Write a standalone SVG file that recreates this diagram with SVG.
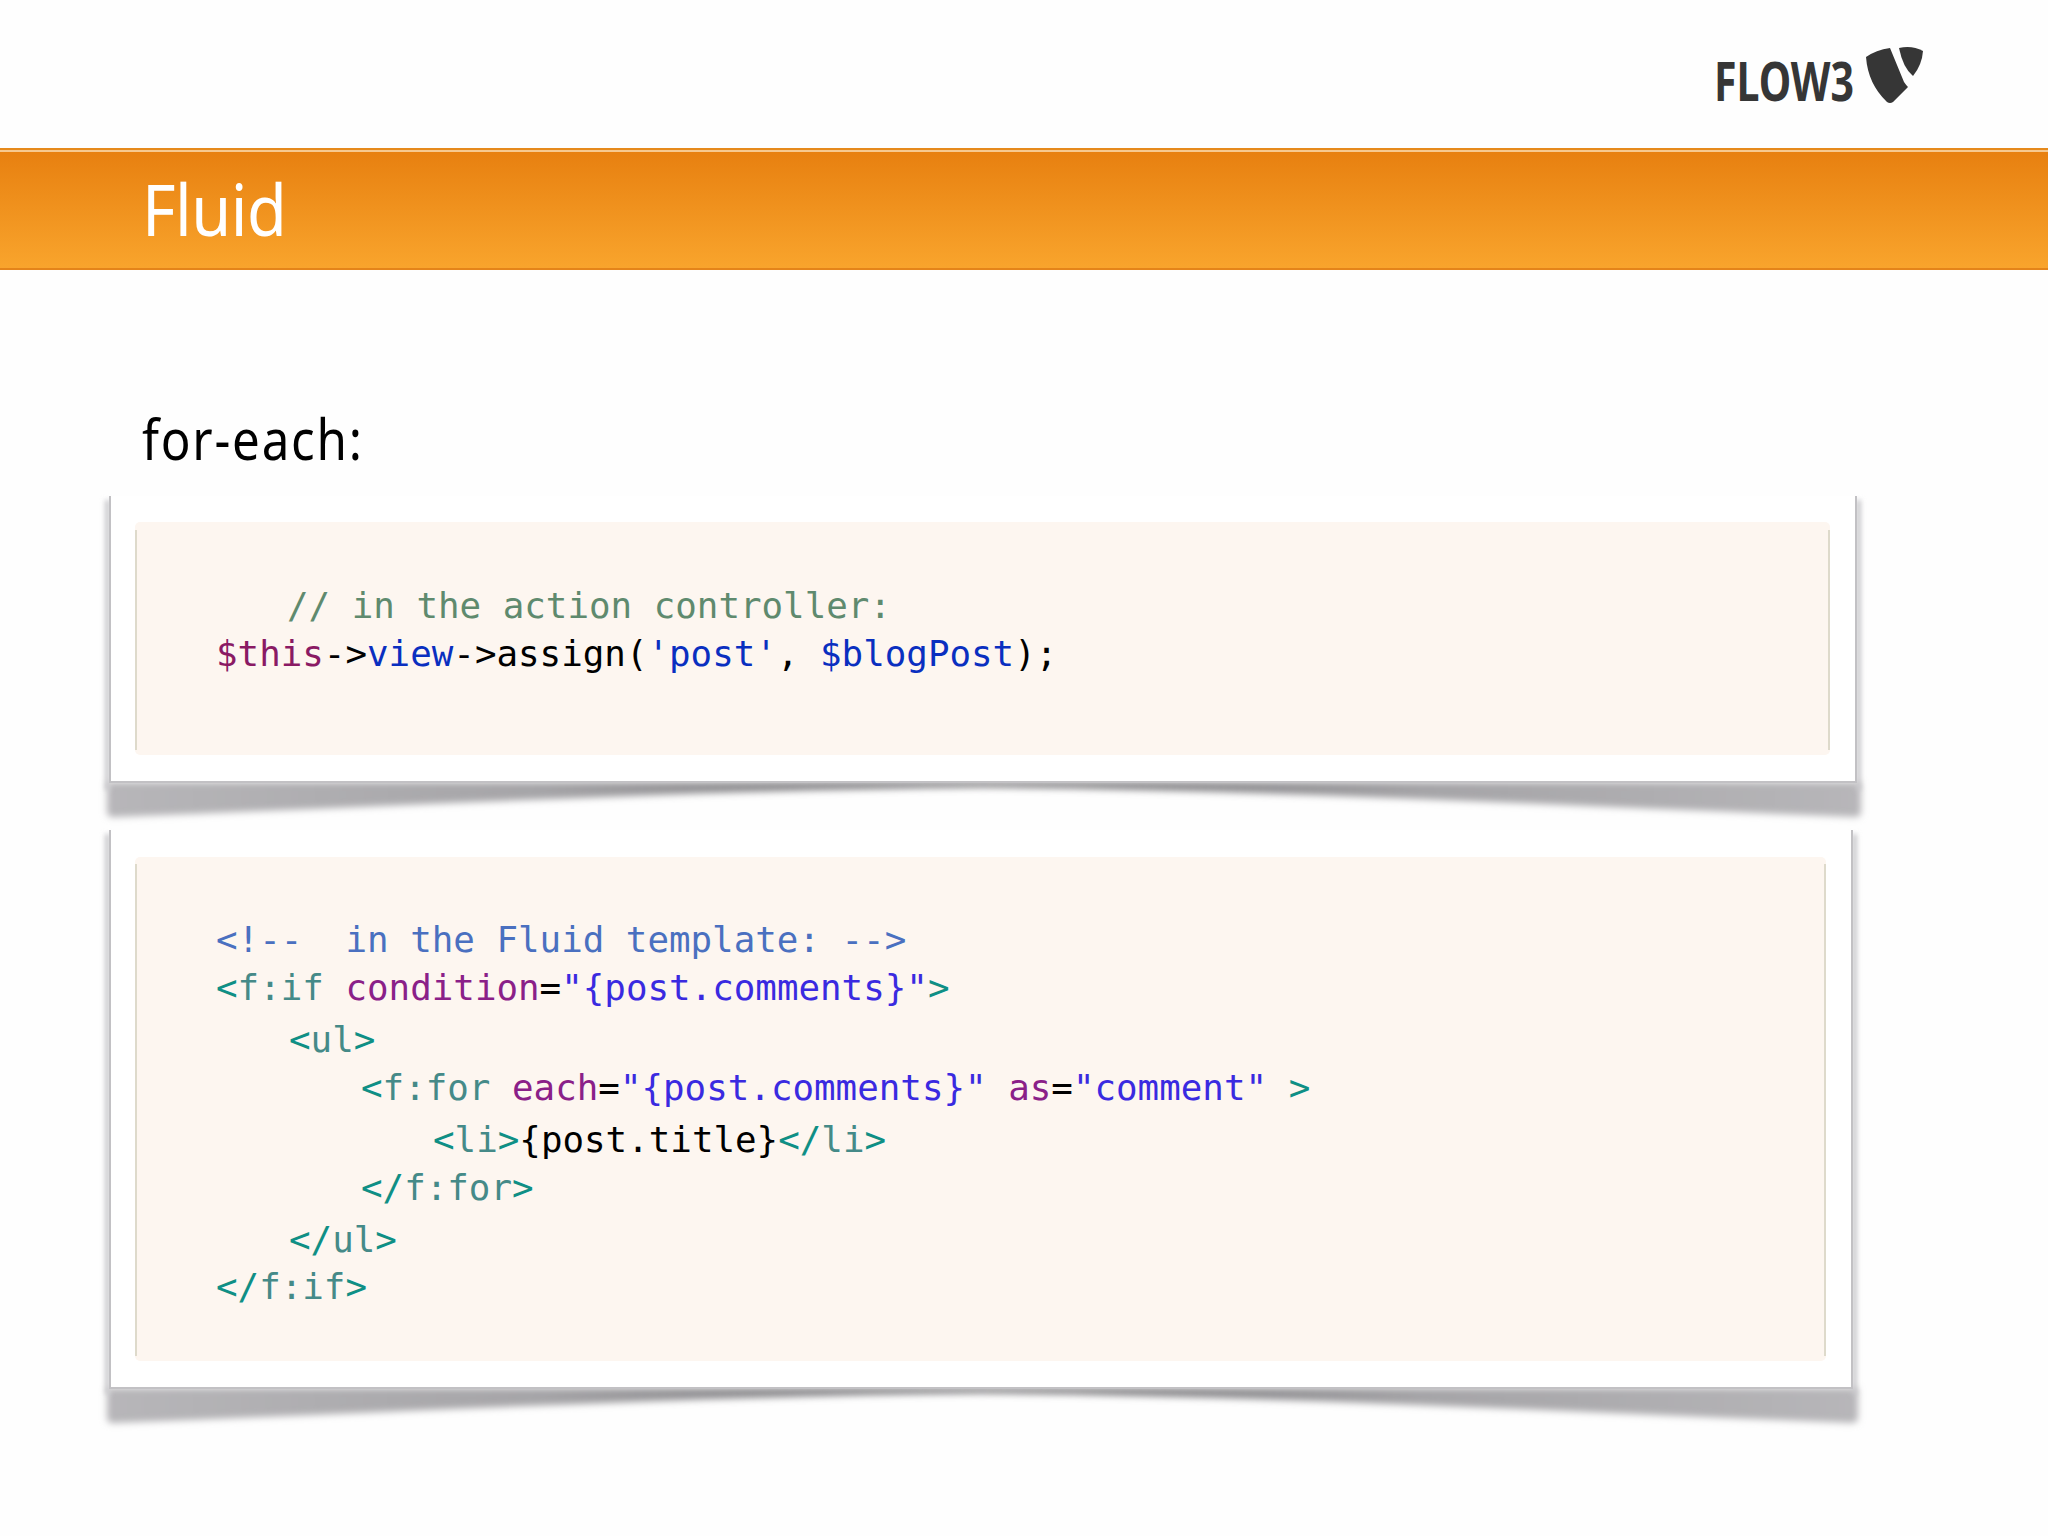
<svg xmlns="http://www.w3.org/2000/svg" width="2048" height="1536" viewBox="0 0 2048 1536">
<defs>
<linearGradient id="bannerFill" x1="0" y1="0" x2="0" y2="1"><stop offset="0" stop-color="#e77f0f"/><stop offset="1" stop-color="#f9a52d"/></linearGradient>
<linearGradient id="shadowFill" x1="0" y1="0" x2="1" y2="0"><stop offset="0" stop-color="#b7b6b9"/><stop offset="0.25" stop-color="#a5a4a7"/><stop offset="0.5" stop-color="#6d6c6f"/><stop offset="0.75" stop-color="#a5a4a7"/><stop offset="1" stop-color="#b7b6b9"/></linearGradient>
<filter id="blur" x="-5%" y="-50%" width="110%" height="200%"><feGaussianBlur stdDeviation="3.5"/></filter>
<filter id="blurSide" x="-300%" y="-5%" width="700%" height="110%"><feGaussianBlur stdDeviation="2.5"/></filter>
</defs>
<style>
text{white-space:pre}
.code{font-family:"DejaVu Sans Mono","Liberation Mono",monospace;font-size:35.85px}
.head{font-family:"Noto Sans","Open Sans",sans-serif}
.card{fill:#fff}
.edge{stroke:#c2c1c4;stroke-width:2;fill:none}
.inner{fill:#fdf6f0}
.innerEdge{stroke:#dedacb;stroke-width:2;fill:none}
.sh{fill:url(#shadowFill);filter:url(#blur)}
.side{fill:#c8c7ca;filter:url(#blurSide)}
.cm1{fill:#5f8a6e}.var{fill:#8a1a64}.prop{fill:#0a2fc0}.blk{fill:#000}
.cm2{fill:#4a70c0}.br{fill:#0f8f85}.tag{fill:#458a88}.attr{fill:#8a2088}.val{fill:#3a2ae0}
</style>
<rect width="2048" height="1536" fill="#fefefe"/>
<g id="logo">
<text x="1714" y="101" font-family="'Noto Sans',sans-serif" font-weight="700" font-size="54" fill="#363636" textLength="140" lengthAdjust="spacingAndGlyphs">FLOW3</text>
<path d="M1866 57Q1876 50 1890 48L1904 82Q1906 85 1908 87L1893 102Q1890 104 1887 102Q1868 84 1866 57Z" fill="#363636"/>
<path d="M1899 48Q1912 45 1923 51Q1922 65 1913 76Q1903 68 1899 48Z" fill="#363636"/>
</g>
<g id="banner">
<rect x="0" y="148" width="2048" height="122" fill="url(#bannerFill)"/>
<rect x="0" y="148" width="2048" height="2" fill="#e68a1c"/>
<rect x="0" y="150" width="2048" height="2" fill="#f7c98f"/>
<rect x="0" y="268" width="2048" height="2" fill="#e4841a"/>
<text class="head" transform="translate(142 236) scale(.9 1)" font-size="72" fill="#fff" textLength="161" lengthAdjust="spacing">Fluid</text>
</g>
<text id="subtitle" class="head" transform="translate(142 460) scale(.88 1)" font-size="56" fill="#000" textLength="250" lengthAdjust="spacing">for-each:</text>
<g id="card1">
<path class="sh" d="M107 782V812Q107 818 115 817C400 806 700 790 983 787C1270 790 1570 806 1855 817Q1861 817 1861 812V782Z"/>
<rect class="side" x="105" y="500" width="5" height="290"/>
<rect class="side" x="1856" y="500" width="5" height="290"/>
<rect class="card" x="110" y="496" width="1746" height="286"/>
<path class="edge" d="M110 496V782H1856V496"/>
<rect class="inner" x="135" y="522" width="1695" height="233" rx="5"/>
<path class="innerEdge" d="M136 530V750M1829 530V750"/>
<text class="code" y="618"><tspan class="cm1" x="287">// in the action controller:</tspan></text>
<text class="code" y="666" x="216"><tspan class="var">$this</tspan><tspan class="blk">-&gt;</tspan><tspan class="prop">view</tspan><tspan class="blk">-&gt;assign(</tspan><tspan class="prop">'post'</tspan><tspan class="blk">, </tspan><tspan class="prop">$blogPost</tspan><tspan class="blk">);</tspan></text>
</g>
<g id="card2">
<path class="sh" d="M107 1388V1418Q107 1424 115 1423C400 1412 700 1396 981 1393C1270 1396 1570 1412 1851 1423Q1858 1423 1858 1418V1388Z"/>
<rect class="side" x="105" y="834" width="5" height="560"/>
<rect class="side" x="1852" y="834" width="5" height="560"/>
<rect class="card" x="110" y="830" width="1742" height="558"/>
<path class="edge" d="M110 830V1388H1852V830"/>
<rect class="inner" x="135" y="857" width="1691" height="504" rx="5"/>
<path class="innerEdge" d="M136 864V1356M1825 864V1356"/>
<text class="code" y="952" x="216"><tspan class="cm2">&lt;!--  in the Fluid template: --&gt;</tspan></text>
<text class="code" y="1000" x="216"><tspan class="br">&lt;</tspan><tspan class="tag">f:if</tspan><tspan> </tspan><tspan class="attr">condition</tspan><tspan class="blk">=</tspan><tspan class="val">"{post.comments}"</tspan><tspan class="br">&gt;</tspan></text>
<text class="code" y="1052" x="289"><tspan class="br">&lt;</tspan><tspan class="tag">ul</tspan><tspan class="br">&gt;</tspan></text>
<text class="code" y="1100" x="361"><tspan class="br">&lt;</tspan><tspan class="tag">f:for</tspan><tspan> </tspan><tspan class="attr">each</tspan><tspan class="blk">=</tspan><tspan class="val">"{post.comments}"</tspan><tspan> </tspan><tspan class="attr">as</tspan><tspan class="blk">=</tspan><tspan class="val">"comment"</tspan><tspan> </tspan><tspan class="br">&gt;</tspan></text>
<text class="code" y="1152" x="433"><tspan class="br">&lt;</tspan><tspan class="tag">li</tspan><tspan class="br">&gt;</tspan><tspan class="blk">{post.title}</tspan><tspan class="br">&lt;/</tspan><tspan class="tag">li</tspan><tspan class="br">&gt;</tspan></text>
<text class="code" y="1200" x="361"><tspan class="br">&lt;/</tspan><tspan class="tag">f:for</tspan><tspan class="br">&gt;</tspan></text>
<text class="code" y="1252" x="289"><tspan class="br">&lt;/</tspan><tspan class="tag">ul</tspan><tspan class="br">&gt;</tspan></text>
<text class="code" y="1299" x="216"><tspan class="br">&lt;/</tspan><tspan class="tag">f:if</tspan><tspan class="br">&gt;</tspan></text>
</g>
</svg>
